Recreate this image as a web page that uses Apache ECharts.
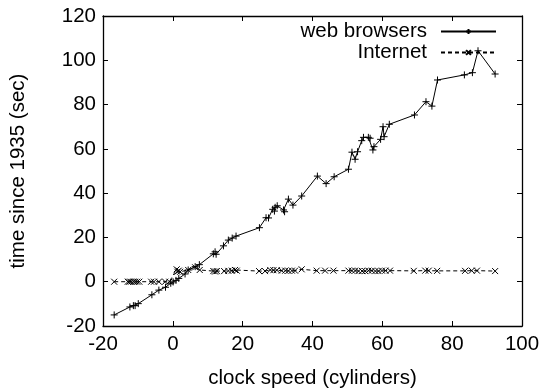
<!DOCTYPE html>
<html><head><meta charset="utf-8">
<script src="https://cdn.jsdelivr.net/npm/echarts@6/dist/echarts.min.js"></script>
<style>html,body{margin:0;padding:0;background:#fff}#c{width:542px;height:391px}</style>
</head><body><div id="c"></div>
<script>
var seriesNames = ['web browsers', 'Internet'];
var xTitle = 'clock speed (cylinders)';
var yTitle = 'time since 1935 (sec)';
var xTicks = [-20, 0, 20, 40, 60, 80, 100];
var yTicks = [-20, 0, 20, 40, 60, 80, 100, 120];

var webX = [-16.8,-12.3,-11.3,-10.8,-9.9,-6.0,-4.0,-2.1,-0.6,0.1,0.9,1.7,3.5,4.4,6.4,7.6,11.6,12.1,12.4,14.5,15.9,17.0,18.1,24.8,26.7,27.4,28.6,29.1,29.3,29.9,31.7,32.0,33.1,34.4,36.9,41.4,43.9,46.2,50.3,51.3,52.2,52.9,54.1,54.6,56.0,56.5,57.3,57.6,59.5,60.2,60.5,62.0,69.2,72.5,74.2,75.8,83.5,85.8,87.4,92.3];
var webY = [-15.0,-11.4,-10.8,-10.8,-9.9,-5.9,-3.8,-2.5,-0.7,-0.1,0.6,1.5,3.5,5.3,6.8,7.7,12.6,13.5,12.4,16.2,18.8,19.7,20.6,24.4,28.9,28.8,32.7,31.9,33.6,34.3,32.4,31.6,37.3,34.6,38.7,47.7,44.3,47.4,50.8,58.5,55.3,58.7,63.7,65.2,65.2,64.8,59.5,61.0,64.3,70.0,65.5,71.1,75.3,81.3,79.3,91.1,93.4,94.4,104.3,93.8];

var netX = [-16.8,-12.9,-12.5,-12.0,-11.3,-10.8,-10.2,-9.6,-6.2,-5.4,-4.0,-2.2,-1.0,1.1,1.3,1.7,2.1,4.4,6.4,7.7,11.6,12.1,12.6,14.7,15.9,16.9,17.8,18.3,24.7,26.4,27.9,28.8,29.8,31.2,32.2,33.1,34.1,35.0,36.9,41.2,43.6,46.0,50.3,51.3,52.2,53.2,54.2,55.1,56.0,57.0,58.0,58.9,59.9,60.9,62.2,69.0,72.3,73.3,75.7,83.7,85.6,87.1,92.3];
var netY = [0.0,0.0,0.0,0.0,0.0,0.0,0.0,0.0,0.0,0.0,0.0,0.0,0.0,5.6,4.5,5.0,4.5,5.3,6.5,5.3,4.8,4.6,4.8,4.8,4.9,5.0,5.3,5.0,4.8,4.8,5.3,5.2,5.2,5.0,5.0,4.9,5.0,5.0,5.6,5.0,5.0,5.0,5.0,5.0,5.0,4.8,4.8,4.8,5.0,5.0,4.8,4.8,5.0,5.0,5.0,4.9,5.0,5.0,4.9,4.9,5.0,5.0,4.8];

function zip(a, b) { return a.map(function (v, i) { return [v, b[i]]; }); }

var FONT = 'Liberation Sans';
var FS = 20.5;
var plusPath = 'path://M0,5L10,5M5,0L5,10';
var crossPath = 'path://M0,0L10,10M10,0L0,10';

var axisCommon = {
  axisLine: { show: true, onZero: false, lineStyle: { color: '#000', width: 1.3 } },
  axisTick: { show: true, inside: true, length: 5, lineStyle: { color: '#000', width: 1 } },
  splitLine: { show: false }
};

var chart = echarts.init(document.getElementById('c'), null, { renderer: 'canvas' });
chart.setOption({
  animation: false,
  backgroundColor: '#fff',
  grid: { left: 103, right: 20, top: 16, bottom: 65, containLabel: false, outerBoundsMode: 'none' },
  xAxis: [
    Object.assign({}, axisCommon, {
      type: 'value', min: xTicks[0], max: xTicks[xTicks.length - 1], interval: 20, position: 'bottom',
      name: xTitle, nameLocation: 'middle', nameGap: 42,
      nameTextStyle: { fontFamily: FONT, fontSize: FS, color: '#000' },
      axisLabel: { fontFamily: FONT, fontSize: FS, color: '#000', margin: 8 }
    }),
    Object.assign({}, axisCommon, {
      type: 'value', min: xTicks[0], max: xTicks[xTicks.length - 1], interval: 20, position: 'top',
      axisLabel: { show: false }
    })
  ],
  yAxis: [
    Object.assign({}, axisCommon, {
      type: 'value', min: yTicks[0], max: yTicks[yTicks.length - 1], interval: 20, position: 'left',
      name: yTitle, nameLocation: 'middle', nameGap: 74, nameRotate: 90,
      nameTextStyle: { fontFamily: FONT, fontSize: FS, color: '#000' },
      axisLabel: { fontFamily: FONT, fontSize: FS, color: '#000', margin: 7 }
    }),
    Object.assign({}, axisCommon, {
      type: 'value', min: yTicks[0], max: yTicks[yTicks.length - 1], interval: 20, position: 'right',
      axisLabel: { show: false }
    })
  ],
  legend: {
    right: 45, top: 21, padding: 0, orient: 'vertical', align: 'right',
    itemWidth: 55, itemHeight: 6, itemGap: 0,
    textStyle: { fontFamily: FONT, fontSize: FS, lineHeight: 20, color: '#000', padding: [0, 9, 0, 0] },
    data: seriesNames
  },
  series: [
    {
      name: seriesNames[0], type: 'line', data: zip(webX, webY),
      symbol: plusPath, symbolSize: 7,
      itemStyle: { color: 'none', borderColor: '#000', borderWidth: 1 },
      lineStyle: { color: '#000', width: 1, type: 'solid' }
    },
    {
      name: seriesNames[1], type: 'line', data: zip(netX, netY),
      symbol: crossPath, symbolSize: 6,
      itemStyle: { color: 'none', borderColor: '#000', borderWidth: 1 },
      lineStyle: { color: '#000', width: 1, type: [4, 3] }
    }
  ]
});
</script></body></html>
